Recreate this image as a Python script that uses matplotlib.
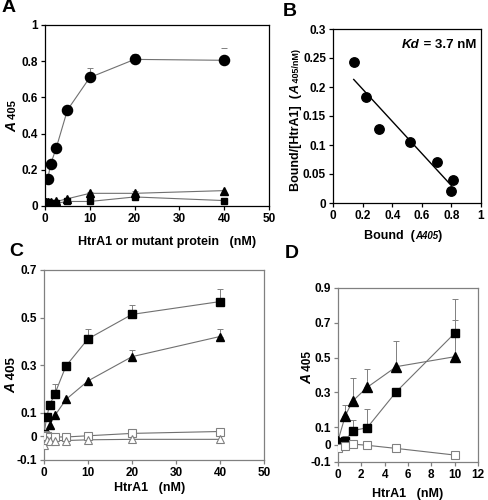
import matplotlib
matplotlib.use("Agg")
import matplotlib.pyplot as plt
import numpy as np

plt.rcParams['font.family'] = ['Liberation Sans', 'DejaVu Sans']
plt.rcParams['font.weight'] = 'bold'

# Panel A
a_x_circ = [0.625, 1.25, 2.5, 5, 10, 20, 40]
a_y_circ = [0.15, 0.23, 0.32, 0.53, 0.71, 0.81, 0.805]
a_e_circ = [0, 0, 0, 0, 0.055, 0.03, 0.07]
a_x = [0, 0.3, 0.625, 1.25, 2.5, 5, 10, 20, 40]
a_y_tri = [0.02, 0.02, 0.02, 0.02, 0.025, 0.04, 0.07, 0.07, 0.085]
a_e_tri = [0, 0, 0, 0, 0, 0.005, 0.01, 0.015, 0.0]
a_y_sq = [0.02, 0.02, 0.02, 0.015, 0.015, 0.025, 0.025, 0.05, 0.03]

# Panel B (Scatchard)
b_x = [0.14, 0.22, 0.31, 0.52, 0.70, 0.81, 0.80]
b_y = [0.243, 0.183, 0.127, 0.106, 0.07, 0.04, 0.02]
b_fit_x = [0.14, 0.80]
b_fit_y = [0.213, 0.03]

# Panel C
c_x = [0, 0.625, 1.25, 2.5, 5, 10, 20, 40]
c_sq = [0.01, 0.08, 0.13, 0.18, 0.296, 0.41, 0.513, 0.567]
c_sq_e = [0, 0, 0, 0.04, 0, 0.04, 0.04, 0.052]
c_tri = [0.005, 0.012, 0.047, 0.088, 0.155, 0.233, 0.335, 0.42]
c_tri_e = [0, 0, 0, 0, 0, 0, 0.03, 0.03]
c_osq = [0.005, 0.0, -0.003, -0.003, -0.003, 0.002, 0.012, 0.02]
c_otri = [-0.037, -0.015, -0.018, -0.018, -0.018, -0.015, -0.013, -0.013]

# Panel D
d_x = [0, 0.625, 1.25, 2.5, 5, 10]
d_sq = [0.017, 0.021, 0.08, 0.097, 0.304, 0.64]
d_sq_e = [0, 0.03, 0.063, 0.105, 0, 0.195]
d_tri = [0.022, 0.166, 0.25, 0.329, 0.448, 0.505]
d_tri_e = [0, 0.063, 0.13, 0.105, 0.15, 0.21]
d_osq = [-0.022, -0.006, 0.003, -0.004, -0.022, -0.06]

W, H = 488, 500
fig = plt.figure(figsize=(W / 100, H / 100), dpi=100)
renderer = fig.canvas.get_renderer()

tick_fs = 8.5
line_c = '#707070'
gc = '#808080'


def px(x, y):
    return x / W, 1 - y / H


def stacked(pieces, cx, cy, rotation=0):
    """Place text pieces one after another, centred on pixel (cx, cy).
    pieces: list of (text, size, style)."""
    texts = []
    widths = []
    for s, size, style in pieces:
        t = fig.text(0, 0, s, fontsize=size, fontstyle=style, fontweight='bold',
                     ha='left', va='baseline', rotation_mode='anchor')
        widths.append(t.get_window_extent(renderer).width)
        texts.append(t)
    total = sum(widths)
    cap = max(p[1] for p in pieces) * 100 / 72 * 0.716
    pos = -total / 2
    for t, w in zip(texts, widths):
        if rotation == 0:
            t.set_position(px(cx + pos, cy + cap / 2))
        else:
            t.set_rotation(90)
            t.set_position(px(cx + cap / 2, cy - pos))
        pos += w
    return texts


def style(ax, spine_color='black'):
    for s in ax.spines.values():
        s.set_color(spine_color)
        s.set_linewidth(0.9)
    ax.tick_params(direction='out', length=3, width=0.9, color=spine_color,
                   labelsize=tick_fs, pad=2)
    for lbl in ax.get_xticklabels() + ax.get_yticklabels():
        lbl.set_fontweight('bold')


def upper_err(ax, x, y, e, color='black', elw=0.7):
    x = np.asarray(x); y = np.asarray(y); e = np.asarray(e)
    m = e > 0
    ax.errorbar(x[m], y[m], yerr=[np.zeros(m.sum()), e[m]], fmt='none',
                ecolor=color, elinewidth=elw, capsize=2, capthick=0.7, zorder=2)


def add_axes_px(left, top, right, bottom):
    return fig.add_axes([left / W, 1 - bottom / H, (right - left) / W, (bottom - top) / H])

# ---- A
axA = add_axes_px(45, 25, 269, 206)
axA.plot(a_x_circ, a_y_circ, '-', color=line_c, lw=0.8, zorder=1)
axA.plot(a_x_circ, a_y_circ, 'o', color='black', ms=7.3, zorder=3)
upper_err(axA, a_x_circ[:-1], a_y_circ[:-1], a_e_circ[:-1], color=gc)
upper_err(axA, a_x_circ[-1:], a_y_circ[-1:], a_e_circ[-1:], color=gc, elw=0)
axA.plot(a_x, a_y_tri, '-', color=line_c, lw=0.8, zorder=1)
axA.plot(a_x, a_y_tri, '^', color='black', ms=5.5, zorder=3)
upper_err(axA, a_x, a_y_tri, a_e_tri, color=gc)
axA.plot(a_x, a_y_sq, '-', color=line_c, lw=0.8, zorder=1)
axA.plot(a_x, a_y_sq, 's', color='black', ms=5, zorder=3)
axA.set_xlim(0, 50)
axA.set_ylim(0, 1)
axA.set_xticks([0, 10, 20, 30, 40, 50])
axA.set_yticks([0, 0.2, 0.4, 0.6, 0.8, 1])
axA.set_yticklabels(['0', '0.2', '0.4', '0.6', '0.8', '1'])
style(axA)
stacked([('HtrA1 or mutant protein   (nM)', 9, 'normal')], 167, 241)
stacked([('A', 10, 'italic'), (' 405', 8, 'normal')], 11, 116, rotation=90)
fig.text(*px(2, 8), 'A', fontsize=14, fontweight='bold', va='center', ha='left')

# ---- B
axB = add_axes_px(333, 29, 481, 203)
axB.plot(b_x, b_y, 'o', color='black', ms=6.8, zorder=3)
axB.plot(b_fit_x, b_fit_y, '-', color='black', lw=1.0)
axB.set_xlim(0, 1)
axB.set_ylim(0, 0.3)
axB.set_xticks([0, 0.2, 0.4, 0.6, 0.8, 1])
axB.set_xticklabels(['0', '0.2', '0.4', '0.6', '0.8', '1'])
axB.set_yticks([0, 0.05, 0.1, 0.15, 0.2, 0.25, 0.3])
axB.set_yticklabels(['0', '0.05', '0.1', '0.15', '0.2', '0.25', '0.3'])
style(axB)
stacked([('Kd', 9.5, 'italic'), (' = 3.7 nM', 9.5, 'normal')], 439, 43)
stacked([('Bound/[HtrA1]  (', 9, 'normal'), ('A', 9, 'italic'),
         (' 405/nM)', 6.5, 'normal')], 295, 120, rotation=90)
stacked([('Bound  (', 9, 'normal'), ('A405', 7, 'italic'), (')', 9, 'normal')], 403, 235)
fig.text(*px(283, 11), 'B', fontsize=14, fontweight='bold', va='center', ha='left')

# ---- C
axC = add_axes_px(44, 270, 264, 460)
axC.plot(c_x, c_sq, '-', color=line_c, lw=0.8, zorder=1)
axC.plot(c_x, c_sq, 's', color='black', ms=5.5, zorder=3)
upper_err(axC, c_x, c_sq, c_sq_e, color=gc)
axC.plot(c_x, c_tri, '-', color=line_c, lw=0.8, zorder=1)
axC.plot(c_x, c_tri, '^', color='black', ms=6, zorder=3)
upper_err(axC, c_x, c_tri, c_tri_e, color=gc)
axC.plot(c_x, c_osq, '-', color=line_c, lw=0.8, zorder=1)
axC.plot(c_x, c_osq, 's', mfc='white', mec=gc, mew=0.8, ms=5.5, zorder=3)
axC.plot(c_x, c_otri, '-', color=line_c, lw=0.8, zorder=1)
axC.plot(c_x, c_otri, '^', mfc='white', mec=gc, mew=0.8, ms=6, zorder=3)
axC.set_xlim(0, 50)
axC.set_ylim(-0.1, 0.7)
axC.set_xticks([0, 10, 20, 30, 40, 50])
axC.set_yticks([-0.1, 0, 0.1, 0.3, 0.5, 0.7])
axC.set_yticklabels(['-0.1', '0', '0.1', '0.3', '0.5', '0.7'])
style(axC, gc)
stacked([('HtrA1   (nM)', 9, 'normal')], 150, 487)
stacked([('A', 10, 'italic'), (' 405', 9.5, 'normal')], 10, 375, rotation=90)
fig.text(*px(9, 251), 'C', fontsize=14, fontweight='bold', va='center', ha='left')

# ---- D
axD = add_axes_px(338, 288, 478, 462)
axD.plot(d_x, d_sq, '-', color=line_c, lw=0.8, zorder=1)
axD.plot(d_x, d_sq, 's', color='black', ms=5.3, zorder=3)
upper_err(axD, d_x, d_sq, d_sq_e, color=gc)
axD.plot(d_x, d_tri, '-', color=line_c, lw=0.8, zorder=1)
axD.plot(d_x, d_tri, '^', color='black', ms=6.5, zorder=3)
upper_err(axD, d_x, d_tri, d_tri_e, color=gc)
axD.plot(d_x, d_osq, '-', color=line_c, lw=0.8, zorder=1)
axD.plot(d_x, d_osq, 's', mfc='white', mec=gc, mew=0.8, ms=6.3, zorder=3)
axD.set_xlim(0, 12)
axD.set_ylim(-0.1, 0.9)
axD.set_xticks([0, 2, 4, 6, 8, 10, 12])
axD.set_yticks([-0.1, 0, 0.1, 0.3, 0.5, 0.7, 0.9])
axD.set_yticklabels(['-0.1', '0', '0.1', '0.3', '0.5', '0.7', '0.9'])
style(axD, gc)
stacked([('HtrA1   (nM)', 9, 'normal')], 408, 493)
stacked([('A', 10, 'italic'), (' 405', 8.5, 'normal')], 306, 368, rotation=90)
fig.text(*px(285, 254), 'D', fontsize=14, fontweight='bold', va='center', ha='left')

fig.savefig('out.png', dpi=100)
